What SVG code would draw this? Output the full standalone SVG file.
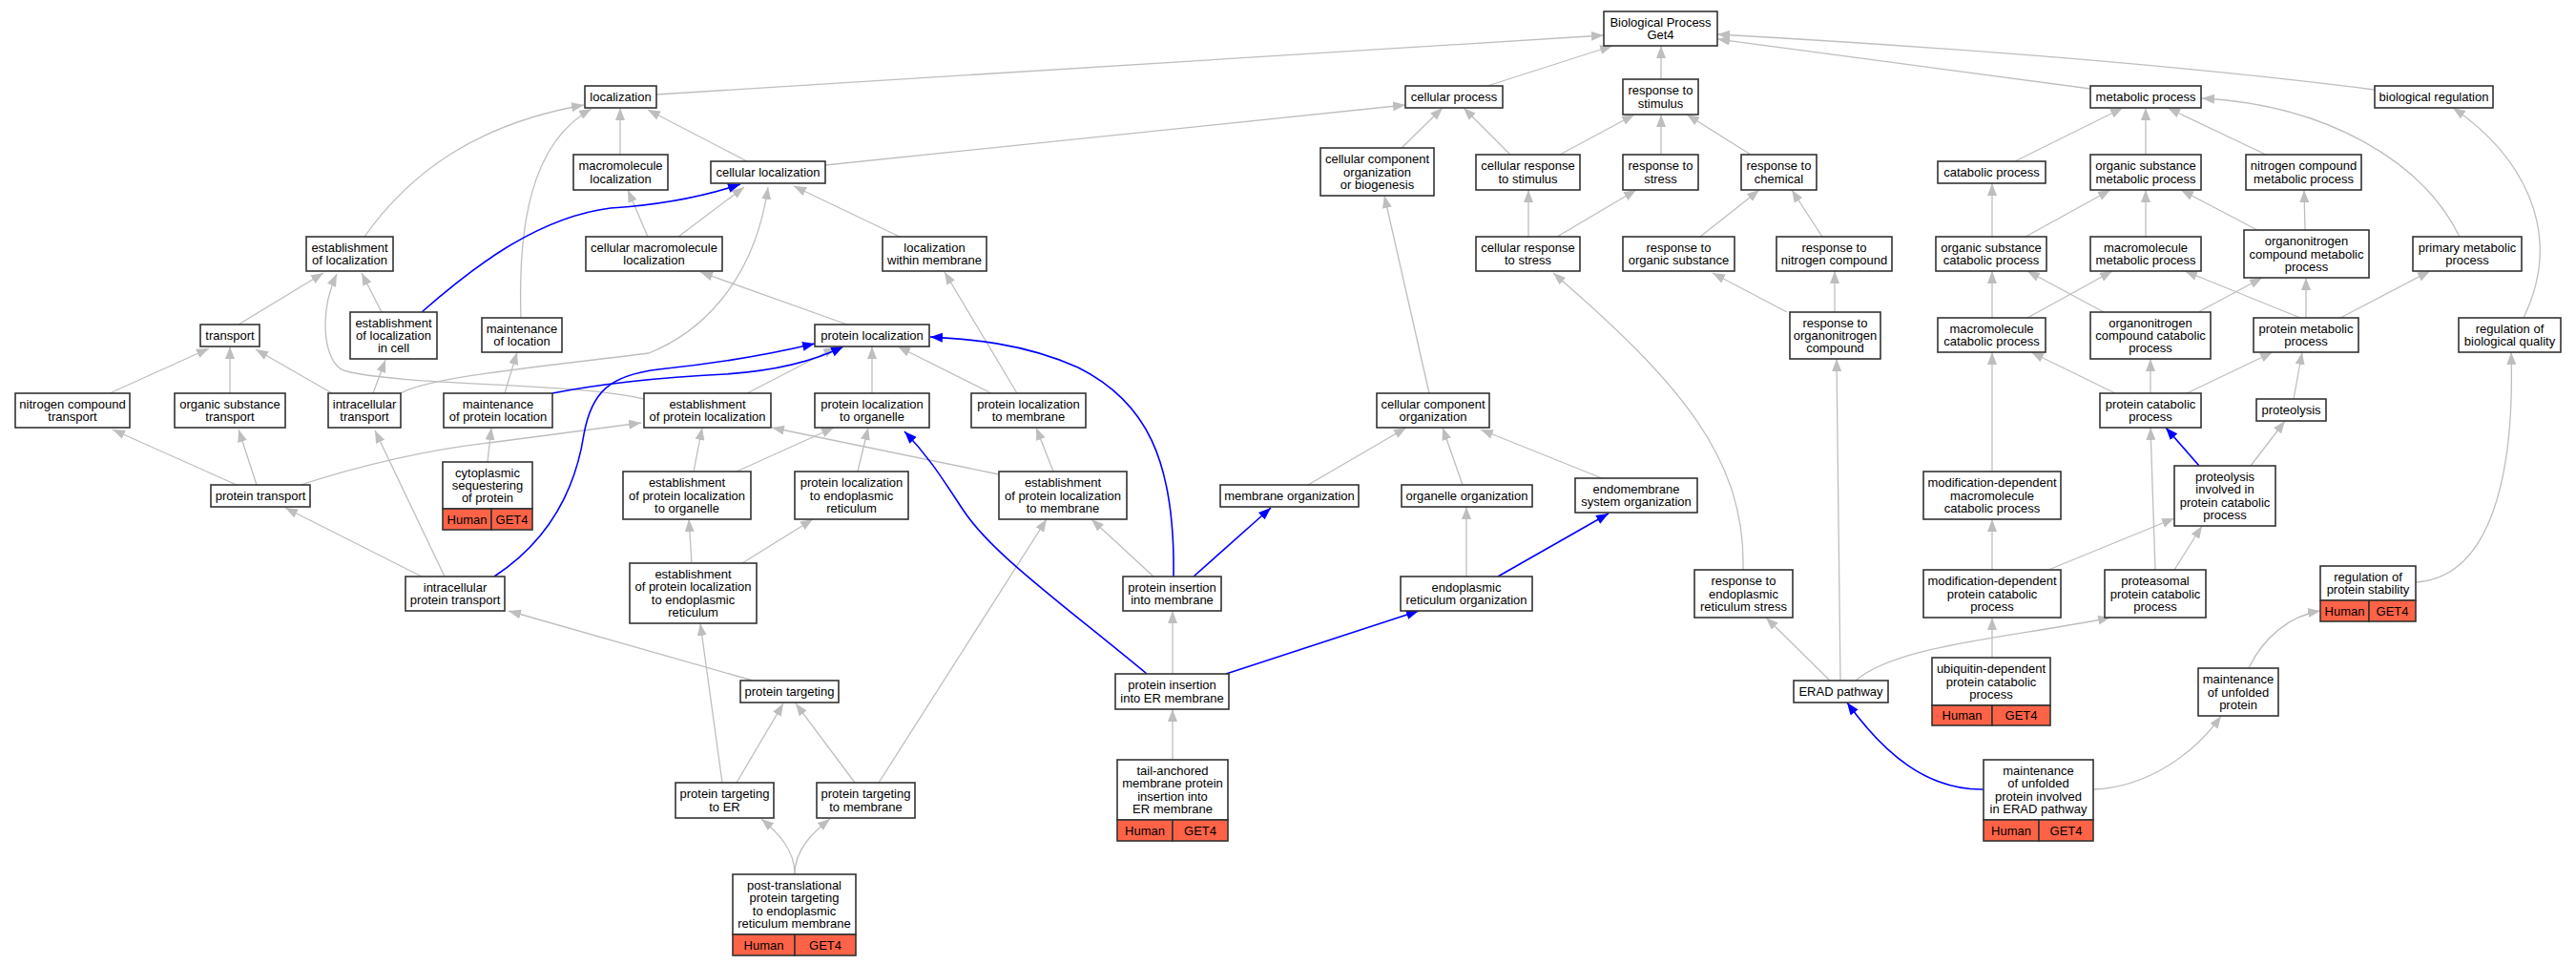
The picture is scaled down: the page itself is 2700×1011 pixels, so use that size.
<svg xmlns="http://www.w3.org/2000/svg" width="2700" height="1011" viewBox="0 0 2700 1011">
<style>
.n rect{fill:#fff;stroke:#333;stroke-width:1.6}
.n rect.g{fill:#ff6347}
.n text{font-family:"Liberation Sans",Arial,Helvetica,sans-serif;font-size:13px;text-anchor:middle;fill:#000}
#edges path{fill:none}
.e{stroke:#bebebe;stroke-width:1.3;marker-end:url(#ag)}
.b{stroke:#0000ff;stroke-width:1.6;marker-end:url(#ab)}
</style>
<defs>
<marker id="ag" viewBox="0 0 13 10" refX="13" refY="5" markerWidth="13" markerHeight="10" markerUnits="userSpaceOnUse" orient="auto"><path d="M0,0 L13,5 L0,10 z" fill="#bebebe"/></marker>
<marker id="ab" viewBox="0 0 13 10" refX="13" refY="5" markerWidth="13" markerHeight="10" markerUnits="userSpaceOnUse" orient="auto"><path d="M0,0 L13,5 L0,10 z" fill="#0000ff"/></marker>
</defs>
<rect width="2700" height="1011" fill="#fff"/>
<g id="edges">
<path class="e" d="M688,99 L1681,37"/>
<path class="e" d="M865,173 L1473,110"/>
<path class="e" d="M1559,90 L1690,48"/>
<path class="e" d="M1741,83 L1741,48"/>
<path class="e" d="M2191,93 C2100,80 1950,60 1800,41"/>
<path class="e" d="M2489,94 C2300,70 2050,50 1800,36"/>
<path class="e" d="M1469,155 L1512,113"/>
<path class="e" d="M1583,162 L1534,113"/>
<path class="e" d="M1635,162 L1713,120"/>
<path class="e" d="M1741,162 L1741,120"/>
<path class="e" d="M1835,162 L1768,120"/>
<path class="e" d="M1602,248 L1602,199"/>
<path class="e" d="M1632,248 L1715,199"/>
<path class="e" d="M1782,248 L1844,199"/>
<path class="e" d="M1910,248 L1878,199"/>
<path class="e" d="M1873,327 L1795,286"/>
<path class="e" d="M1923,327 L1923,284"/>
<path class="e" d="M1498,412 L1451,205"/>
<path class="e" d="M1827,597 C1830,480 1760,400 1628,286"/>
<path class="e" d="M1918,713 L1851,647"/>
<path class="e" d="M1929,713 L1925,376"/>
<path class="e" d="M1945,713 C1990,675 2110,668 2212,647"/>
<path class="e" d="M2088,689 L2088,647"/>
<path class="e" d="M2194,827 C2250,825 2300,790 2328,750"/>
<path class="e" d="M2357,700 C2372,668 2400,645 2432,640"/>
<path class="e" d="M2532,610 C2610,605 2636,500 2632,369"/>
<path class="e" d="M2645,333 C2690,240 2640,160 2571,113"/>
<path class="e" d="M2578,248 C2540,170 2440,110 2308,103"/>
<path class="e" d="M2112,169 L2225,113"/>
<path class="e" d="M2249,162 L2249,113"/>
<path class="e" d="M2375,162 L2272,113"/>
<path class="e" d="M2088,248 L2088,192"/>
<path class="e" d="M2123,248 L2212,199"/>
<path class="e" d="M2249,248 L2249,199"/>
<path class="e" d="M2366,241 L2286,199"/>
<path class="e" d="M2416,241 L2415,199"/>
<path class="e" d="M2088,333 L2088,284"/>
<path class="e" d="M2125,333 L2214,284"/>
<path class="e" d="M2205,327 L2125,284"/>
<path class="e" d="M2304,327 L2371,291"/>
<path class="e" d="M2411,333 L2290,284"/>
<path class="e" d="M2417,333 L2417,291"/>
<path class="e" d="M2453,333 L2547,284"/>
<path class="e" d="M2217,412 L2129,369"/>
<path class="e" d="M2254,412 L2254,376"/>
<path class="e" d="M2292,412 L2382,369"/>
<path class="e" d="M2404,418 L2413,369"/>
<path class="e" d="M2359,488 L2395,441"/>
<path class="e" d="M2088,494 L2088,369"/>
<path class="e" d="M2088,597 L2088,544"/>
<path class="e" d="M2147,597 L2279,543"/>
<path class="e" d="M2259,597 L2254,448"/>
<path class="e" d="M2279,597 L2308,551"/>
<path class="e" d="M650,162 L650,113"/>
<path class="e" d="M783,169 L679,115"/>
<path class="e" d="M382,248 C430,180 500,130 612,110"/>
<path class="e" d="M546,333 C543,240 555,150 620,114"/>
<path class="e" d="M679,248 L658,199"/>
<path class="e" d="M711,248 L780,196"/>
<path class="e" d="M943,248 L832,195"/>
<path class="e" d="M420,412 C450,395 560,385 680,370 C730,350 790,300 805,196"/>
<path class="e" d="M400,327 L379,286"/>
<path class="e" d="M250,340 L339,286"/>
<path class="e" d="M675,418 C600,400 420,405 360,388 C340,380 333,330 353,287"/>
<path class="e" d="M529,412 L542,369"/>
<path class="e" d="M348,412 L268,366"/>
<path class="e" d="M466,604 L393,451"/>
<path class="e" d="M391,412 L404,377"/>
<path class="e" d="M115,412 L219,365"/>
<path class="e" d="M241,412 L241,363"/>
<path class="e" d="M248,508 L118,450"/>
<path class="e" d="M269,508 L250,450"/>
<path class="e" d="M315,508 Q420,474 520,463 L672,443"/>
<path class="e" d="M442,604 L299,532"/>
<path class="e" d="M511,484 L515,448"/>
<path class="e" d="M789,713 L533,640"/>
<path class="e" d="M783,412 L876,364"/>
<path class="e" d="M914,412 L914,363"/>
<path class="e" d="M1039,412 L941,363"/>
<path class="e" d="M1066,412 L990,285"/>
<path class="e" d="M888,340 L734,285"/>
<path class="e" d="M727,494 L736,448"/>
<path class="e" d="M772,494 L874,448"/>
<path class="e" d="M899,494 L910,448"/>
<path class="e" d="M1047,497 L809,448"/>
<path class="e" d="M1104,494 L1086,448"/>
<path class="e" d="M725,590 L722,544"/>
<path class="e" d="M778,590 L852,544"/>
<path class="e" d="M757,820 L734,653"/>
<path class="e" d="M921,820 L1097,544"/>
<path class="e" d="M1209,604 L1144,544"/>
<path class="e" d="M1229,706 L1229,640"/>
<path class="e" d="M1229,796 L1229,743"/>
<path class="e" d="M1537,604 L1537,531"/>
<path class="e" d="M1371,508 L1474,448"/>
<path class="e" d="M1533,508 L1512,448"/>
<path class="e" d="M1679,501 L1552,450"/>
<path class="e" d="M772,820 L821,737"/>
<path class="e" d="M896,820 L834,737"/>
<path class="e" d="M833,916 C833,890 815,872 798,858"/>
<path class="e" d="M833,916 C833,890 852,872 870,858"/>
<path class="b" d="M442,327 C490,285 560,228 640,218 C700,214 740,205 776,193"/>
<path class="b" d="M579,412 C640,400 700,395 760,392 C820,388 860,375 884,363"/>
<path class="b" d="M518,604 C585,560 605,500 612,455 C620,410 640,393 690,387 C760,380 820,368 854,360"/>
<path class="b" d="M1230,604 C1232,480 1200,420 1130,385 C1070,358 1010,355 975,353"/>
<path class="b" d="M1251,604 L1332,532"/>
<path class="b" d="M1202,706 C1110,630 1040,580 1010,535 C990,505 975,480 948,452"/>
<path class="b" d="M1285,706 L1487,640"/>
<path class="b" d="M1570,604 L1686,538"/>
<path class="b" d="M2305,488 L2270,448"/>
<path class="b" d="M2079,827 C2020,828 1975,790 1936,736"/>
</g>
<g id="n_bp" class="n"><rect x="1681" y="12" width="119" height="36"/><text x="1740.5" y="27.9">Biological Process<tspan x="1740.5" dy="13.3">Get4</tspan></text></g>
<g id="n_localization" class="n"><rect x="613" y="90" width="75" height="23"/><text x="650.5" y="106">localization</text></g>
<g id="n_cellular_process" class="n"><rect x="1473" y="90" width="102" height="23"/><text x="1524" y="106">cellular process</text></g>
<g id="n_response_to_stimulus" class="n"><rect x="1701" y="83" width="79" height="37"/><text x="1740.5" y="99.4">response to<tspan x="1740.5" dy="13.3">stimulus</tspan></text></g>
<g id="n_metabolic_process" class="n"><rect x="2191" y="90" width="116" height="23"/><text x="2249" y="106">metabolic process</text></g>
<g id="n_biological_regulation" class="n"><rect x="2489" y="90" width="124" height="23"/><text x="2551" y="106">biological regulation</text></g>
<g id="n_macromolecule_localization" class="n"><rect x="601" y="162" width="99" height="37"/><text x="650.5" y="178.4">macromolecule<tspan x="650.5" dy="13.3">localization</tspan></text></g>
<g id="n_cellular_localization" class="n"><rect x="745" y="169" width="120" height="23"/><text x="805" y="185">cellular localization</text></g>
<g id="n_cc_org_biogenesis" class="n"><rect x="1384" y="155" width="119" height="50"/><text x="1443.5" y="171.2">cellular component<tspan x="1443.5" dy="13.3">organization</tspan><tspan x="1443.5" dy="13.3">or biogenesis</tspan></text></g>
<g id="n_cellular_response_to_stimulus" class="n"><rect x="1547" y="162" width="109" height="37"/><text x="1601.5" y="178.4">cellular response<tspan x="1601.5" dy="13.3">to stimulus</tspan></text></g>
<g id="n_response_to_stress" class="n"><rect x="1701" y="162" width="79" height="37"/><text x="1740.5" y="178.4">response to<tspan x="1740.5" dy="13.3">stress</tspan></text></g>
<g id="n_response_to_chemical" class="n"><rect x="1825" y="162" width="79" height="37"/><text x="1864.5" y="178.4">response to<tspan x="1864.5" dy="13.3">chemical</tspan></text></g>
<g id="n_catabolic_process" class="n"><rect x="2031" y="169" width="113" height="23"/><text x="2087.5" y="185">catabolic process</text></g>
<g id="n_organic_substance_metabolic" class="n"><rect x="2191" y="162" width="116" height="37"/><text x="2249" y="178.4">organic substance<tspan x="2249" dy="13.3">metabolic process</tspan></text></g>
<g id="n_nitrogen_compound_metabolic" class="n"><rect x="2354" y="162" width="121" height="37"/><text x="2414.5" y="178.4">nitrogen compound<tspan x="2414.5" dy="13.3">metabolic process</tspan></text></g>
<g id="n_establishment_of_localization" class="n"><rect x="321" y="248" width="91" height="36"/><text x="366.5" y="263.9">establishment<tspan x="366.5" dy="13.3">of localization</tspan></text></g>
<g id="n_cellular_macromolecule_localization" class="n"><rect x="614" y="248" width="143" height="36"/><text x="685.5" y="263.9">cellular macromolecule<tspan x="685.5" dy="13.3">localization</tspan></text></g>
<g id="n_localization_within_membrane" class="n"><rect x="925" y="248" width="109" height="36"/><text x="979.5" y="263.9">localization<tspan x="979.5" dy="13.3">within membrane</tspan></text></g>
<g id="n_cellular_response_to_stress" class="n"><rect x="1547" y="248" width="109" height="36"/><text x="1601.5" y="263.9">cellular response<tspan x="1601.5" dy="13.3">to stress</tspan></text></g>
<g id="n_response_to_organic_substance" class="n"><rect x="1701" y="248" width="117" height="36"/><text x="1759.5" y="263.9">response to<tspan x="1759.5" dy="13.3">organic substance</tspan></text></g>
<g id="n_response_to_nitrogen_compound" class="n"><rect x="1862" y="248" width="121" height="36"/><text x="1922.5" y="263.9">response to<tspan x="1922.5" dy="13.3">nitrogen compound</tspan></text></g>
<g id="n_organic_substance_catabolic" class="n"><rect x="2029" y="248" width="116" height="36"/><text x="2087" y="263.9">organic substance<tspan x="2087" dy="13.3">catabolic process</tspan></text></g>
<g id="n_macromolecule_metabolic" class="n"><rect x="2191" y="248" width="116" height="36"/><text x="2249" y="263.9">macromolecule<tspan x="2249" dy="13.3">metabolic process</tspan></text></g>
<g id="n_organonitrogen_compound_metabolic" class="n"><rect x="2352" y="241" width="131" height="50"/><text x="2417.5" y="257.2">organonitrogen<tspan x="2417.5" dy="13.3">compound metabolic</tspan><tspan x="2417.5" dy="13.3">process</tspan></text></g>
<g id="n_primary_metabolic" class="n"><rect x="2529" y="248" width="114" height="36"/><text x="2586" y="263.9">primary metabolic<tspan x="2586" dy="13.3">process</tspan></text></g>
<g id="n_establishment_of_localization_in_cell" class="n"><rect x="367" y="327" width="91" height="49"/><text x="412.5" y="342.7">establishment<tspan x="412.5" dy="13.3">of localization</tspan><tspan x="412.5" dy="13.3">in cell</tspan></text></g>
<g id="n_maintenance_of_location" class="n"><rect x="505" y="333" width="84" height="36"/><text x="547" y="348.9">maintenance<tspan x="547" dy="13.3">of location</tspan></text></g>
<g id="n_transport" class="n"><rect x="210" y="340" width="62" height="23"/><text x="241" y="356">transport</text></g>
<g id="n_protein_localization" class="n"><rect x="854" y="340" width="120" height="23"/><text x="914" y="356">protein localization</text></g>
<g id="n_response_to_organonitrogen" class="n"><rect x="1876" y="327" width="95" height="49"/><text x="1923.5" y="342.7">response to<tspan x="1923.5" dy="13.3">organonitrogen</tspan><tspan x="1923.5" dy="13.3">compound</tspan></text></g>
<g id="n_macromolecule_catabolic" class="n"><rect x="2031" y="333" width="113" height="36"/><text x="2087.5" y="348.9">macromolecule<tspan x="2087.5" dy="13.3">catabolic process</tspan></text></g>
<g id="n_organonitrogen_compound_catabolic" class="n"><rect x="2191" y="327" width="126" height="49"/><text x="2254" y="342.7">organonitrogen<tspan x="2254" dy="13.3">compound catabolic</tspan><tspan x="2254" dy="13.3">process</tspan></text></g>
<g id="n_protein_metabolic" class="n"><rect x="2362" y="333" width="110" height="36"/><text x="2417" y="348.9">protein metabolic<tspan x="2417" dy="13.3">process</tspan></text></g>
<g id="n_regulation_of_biological_quality" class="n"><rect x="2577" y="333" width="107" height="36"/><text x="2630.5" y="348.9">regulation of<tspan x="2630.5" dy="13.3">biological quality</tspan></text></g>
<g id="n_nitrogen_compound_transport" class="n"><rect x="16" y="412" width="120" height="36"/><text x="76" y="427.9">nitrogen compound<tspan x="76" dy="13.3">transport</tspan></text></g>
<g id="n_organic_substance_transport" class="n"><rect x="183" y="412" width="116" height="36"/><text x="241" y="427.9">organic substance<tspan x="241" dy="13.3">transport</tspan></text></g>
<g id="n_intracellular_transport" class="n"><rect x="344" y="412" width="76" height="36"/><text x="382" y="427.9">intracellular<tspan x="382" dy="13.3">transport</tspan></text></g>
<g id="n_maintenance_of_protein_location" class="n"><rect x="465" y="412" width="114" height="36"/><text x="522" y="427.9">maintenance<tspan x="522" dy="13.3">of protein location</tspan></text></g>
<g id="n_establishment_of_protein_localization" class="n"><rect x="675" y="412" width="133" height="36"/><text x="741.5" y="427.9">establishment<tspan x="741.5" dy="13.3">of protein localization</tspan></text></g>
<g id="n_protein_localization_to_organelle" class="n"><rect x="854" y="412" width="120" height="36"/><text x="914" y="427.9">protein localization<tspan x="914" dy="13.3">to organelle</tspan></text></g>
<g id="n_protein_localization_to_membrane" class="n"><rect x="1018" y="412" width="120" height="36"/><text x="1078" y="427.9">protein localization<tspan x="1078" dy="13.3">to membrane</tspan></text></g>
<g id="n_cellular_component_organization" class="n"><rect x="1443" y="412" width="118" height="36"/><text x="1502" y="427.9">cellular component<tspan x="1502" dy="13.3">organization</tspan></text></g>
<g id="n_protein_catabolic" class="n"><rect x="2201" y="412" width="106" height="36"/><text x="2254" y="427.9">protein catabolic<tspan x="2254" dy="13.3">process</tspan></text></g>
<g id="n_proteolysis" class="n"><rect x="2365" y="418" width="73" height="23"/><text x="2401.5" y="434">proteolysis</text></g>
<g id="n_cytoplasmic_sequestering" class="n"><rect x="464" y="484" width="94" height="49"/><rect class="g" x="464" y="533" width="51" height="22"/><rect class="g" x="515" y="533" width="43" height="22"/><text x="511" y="499.7">cytoplasmic<tspan x="511" dy="13.3">sequestering</tspan><tspan x="511" dy="13.3">of protein</tspan></text><text x="489.5" y="548.5">Human</text><text x="536.5" y="548.5">GET4</text></g>
<g id="n_est_protein_loc_organelle" class="n"><rect x="653" y="494" width="134" height="50"/><text x="720" y="510.2">establishment<tspan x="720" dy="13.3">of protein localization</tspan><tspan x="720" dy="13.3">to organelle</tspan></text></g>
<g id="n_protein_loc_to_er" class="n"><rect x="833" y="494" width="119" height="50"/><text x="892.5" y="510.2">protein localization<tspan x="892.5" dy="13.3">to endoplasmic</tspan><tspan x="892.5" dy="13.3">reticulum</tspan></text></g>
<g id="n_est_protein_loc_membrane" class="n"><rect x="1047" y="494" width="134" height="50"/><text x="1114" y="510.2">establishment<tspan x="1114" dy="13.3">of protein localization</tspan><tspan x="1114" dy="13.3">to membrane</tspan></text></g>
<g id="n_mod_dep_macromolecule_catabolic" class="n"><rect x="2016" y="494" width="144" height="50"/><text x="2088" y="510.2">modification-dependent<tspan x="2088" dy="13.3">macromolecule</tspan><tspan x="2088" dy="13.3">catabolic process</tspan></text></g>
<g id="n_proteolysis_involved" class="n"><rect x="2279" y="488" width="106" height="63"/><text x="2332" y="504">proteolysis<tspan x="2332" dy="13.3">involved in</tspan><tspan x="2332" dy="13.3">protein catabolic</tspan><tspan x="2332" dy="13.3">process</tspan></text></g>
<g id="n_protein_transport" class="n"><rect x="221" y="508" width="104" height="23"/><text x="273" y="524">protein transport</text></g>
<g id="n_membrane_organization" class="n"><rect x="1279" y="508" width="145" height="23"/><text x="1351.5" y="524">membrane organization</text></g>
<g id="n_organelle_organization" class="n"><rect x="1469" y="508" width="137" height="23"/><text x="1537.5" y="524">organelle organization</text></g>
<g id="n_endomembrane_system_organization" class="n"><rect x="1651" y="501" width="128" height="36"/><text x="1715" y="516.9">endomembrane<tspan x="1715" dy="13.3">system organization</tspan></text></g>
<g id="n_est_protein_loc_er" class="n"><rect x="660" y="590" width="133" height="63"/><text x="726.5" y="606">establishment<tspan x="726.5" dy="13.3">of protein localization</tspan><tspan x="726.5" dy="13.3">to endoplasmic</tspan><tspan x="726.5" dy="13.3">reticulum</tspan></text></g>
<g id="n_intracellular_protein_transport" class="n"><rect x="425" y="604" width="104" height="36"/><text x="477" y="619.9">intracellular<tspan x="477" dy="13.3">protein transport</tspan></text></g>
<g id="n_protein_insertion_into_membrane" class="n"><rect x="1177" y="604" width="103" height="36"/><text x="1228.5" y="619.9">protein insertion<tspan x="1228.5" dy="13.3">into membrane</tspan></text></g>
<g id="n_er_organization" class="n"><rect x="1468" y="604" width="138" height="36"/><text x="1537" y="619.9">endoplasmic<tspan x="1537" dy="13.3">reticulum organization</tspan></text></g>
<g id="n_response_to_er_stress" class="n"><rect x="1776" y="597" width="103" height="50"/><text x="1827.5" y="613.2">response to<tspan x="1827.5" dy="13.3">endoplasmic</tspan><tspan x="1827.5" dy="13.3">reticulum stress</tspan></text></g>
<g id="n_mod_dep_protein_catabolic" class="n"><rect x="2016" y="597" width="144" height="50"/><text x="2088" y="613.2">modification-dependent<tspan x="2088" dy="13.3">protein catabolic</tspan><tspan x="2088" dy="13.3">process</tspan></text></g>
<g id="n_proteasomal" class="n"><rect x="2206" y="597" width="106" height="50"/><text x="2259" y="613.2">proteasomal<tspan x="2259" dy="13.3">protein catabolic</tspan><tspan x="2259" dy="13.3">process</tspan></text></g>
<g id="n_regulation_of_protein_stability" class="n"><rect x="2432" y="593" width="100" height="36"/><rect class="g" x="2432" y="629" width="51" height="22"/><rect class="g" x="2483" y="629" width="49" height="22"/><text x="2482" y="608.9">regulation of<tspan x="2482" dy="13.3">protein stability</tspan></text><text x="2457.5" y="644.5">Human</text><text x="2507.5" y="644.5">GET4</text></g>
<g id="n_protein_targeting" class="n"><rect x="776" y="713" width="103" height="23"/><text x="827.5" y="729">protein targeting</text></g>
<g id="n_protein_insertion_into_er_membrane" class="n"><rect x="1169" y="706" width="119" height="37"/><text x="1228.5" y="722.4">protein insertion<tspan x="1228.5" dy="13.3">into ER membrane</tspan></text></g>
<g id="n_erad_pathway" class="n"><rect x="1880" y="713" width="99" height="23"/><text x="1929.5" y="729">ERAD pathway</text></g>
<g id="n_ubiquitin_dependent" class="n"><rect x="2025" y="689" width="124" height="50"/><rect class="g" x="2025" y="739" width="63" height="21"/><rect class="g" x="2088" y="739" width="61" height="21"/><text x="2087" y="705.2">ubiquitin-dependent<tspan x="2087" dy="13.3">protein catabolic</tspan><tspan x="2087" dy="13.3">process</tspan></text><text x="2056.5" y="754">Human</text><text x="2118.5" y="754">GET4</text></g>
<g id="n_maintenance_of_unfolded_protein" class="n"><rect x="2304" y="700" width="84" height="50"/><text x="2346" y="716.2">maintenance<tspan x="2346" dy="13.3">of unfolded</tspan><tspan x="2346" dy="13.3">protein</tspan></text></g>
<g id="n_tail_anchored" class="n"><rect x="1171" y="796" width="116" height="63"/><rect class="g" x="1171" y="859" width="58" height="22"/><rect class="g" x="1229" y="859" width="58" height="22"/><text x="1229" y="812">tail-anchored<tspan x="1229" dy="13.3">membrane protein</tspan><tspan x="1229" dy="13.3">insertion into</tspan><tspan x="1229" dy="13.3">ER membrane</tspan></text><text x="1200" y="874.5">Human</text><text x="1258" y="874.5">GET4</text></g>
<g id="n_maintenance_unfolded_erad" class="n"><rect x="2079" y="796" width="115" height="63"/><rect class="g" x="2079" y="859" width="58" height="22"/><rect class="g" x="2137" y="859" width="57" height="22"/><text x="2136.5" y="812">maintenance<tspan x="2136.5" dy="13.3">of unfolded</tspan><tspan x="2136.5" dy="13.3">protein involved</tspan><tspan x="2136.5" dy="13.3">in ERAD pathway</tspan></text><text x="2108" y="874.5">Human</text><text x="2165.5" y="874.5">GET4</text></g>
<g id="n_protein_targeting_to_er" class="n"><rect x="708" y="820" width="103" height="37"/><text x="759.5" y="836.4">protein targeting<tspan x="759.5" dy="13.3">to ER</tspan></text></g>
<g id="n_protein_targeting_to_membrane" class="n"><rect x="856" y="820" width="103" height="37"/><text x="907.5" y="836.4">protein targeting<tspan x="907.5" dy="13.3">to membrane</tspan></text></g>
<g id="n_post_translational" class="n"><rect x="768" y="916" width="129" height="63"/><rect class="g" x="768" y="979" width="65" height="22"/><rect class="g" x="833" y="979" width="64" height="22"/><text x="832.5" y="932">post-translational<tspan x="832.5" dy="13.3">protein targeting</tspan><tspan x="832.5" dy="13.3">to endoplasmic</tspan><tspan x="832.5" dy="13.3">reticulum membrane</tspan></text><text x="800.5" y="994.5">Human</text><text x="865" y="994.5">GET4</text></g>
</svg>
